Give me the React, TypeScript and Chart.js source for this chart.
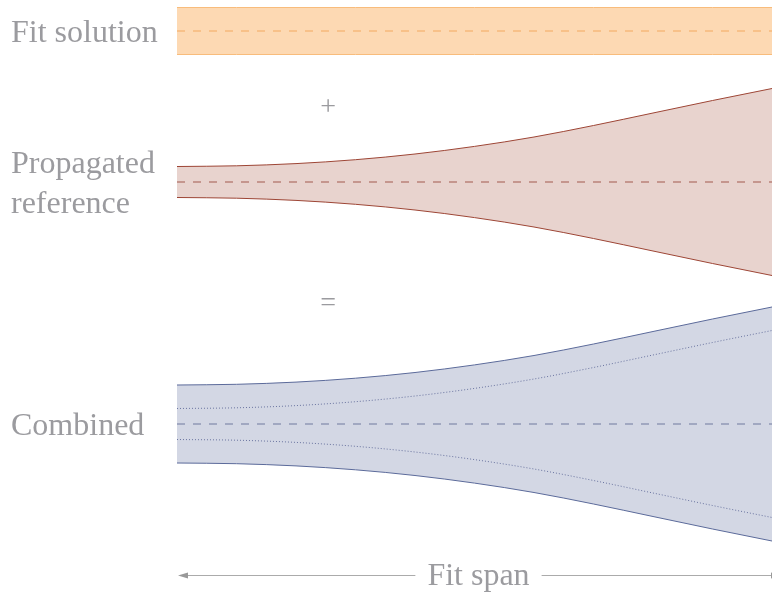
import { useEffect, useRef } from "react";
import { Chart, registerables } from "chart.js";

Chart.register(...registerables);

// Position along the fit span (0 = start, 1 = end)
const spanT = [0, 0.1, 0.2, 0.3, 0.4, 0.5, 0.6, 0.7, 0.8, 0.9, 1.0];
// Half-widths of the uncertainty bands (diagram units)
const fitHalf = [23.5, 23.5, 23.5, 23.5, 23.5, 23.5, 23.5, 23.5, 23.5, 23.5, 23.5];
const refHalf = [15.5, 16.2, 18.4, 22.3, 28.0, 35.6, 45, 56.5, 69, 81.5, 93.5];
const combinedHalf = [39, 39.7, 41.9, 45.8, 51.5, 59.1, 68.5, 80, 92.5, 105, 117];
// Lanes (vertical axis, diagram units, top = 0)
const laneLabels: (string | string[])[] = ["Fit solution", ["Propagated", "reference"], "Combined"];
const laneCenters = [31, 182, 424];
const operators = ["+", "="];
const operatorT = [0.254, 0.254];
const operatorY = [105, 301];
const spanLabel = "Fit span";
const spanY = 575;

const GREY = "#9b9b9f";
const FONT = '"Liberation Serif", "Times New Roman", serif';

type BandStyle = { fill: string; edge: string; mid: string };
const fitStyle: BandStyle = { fill: "#fdd9b3", edge: "#f8bc7c", mid: "#f6b97c" };
const refStyle: BandStyle = { fill: "#e8d3ce", edge: "#9d4535", mid: "#b9837a" };
const combStyle: BandStyle = { fill: "#d3d7e4", edge: "#5b6a9a", mid: "#9199b5" };

function pts(center: number, half: number[], sign: number) {
  return spanT.map((t, i) => ({ x: t, y: center + sign * half[i] }));
}

function band(center: number, half: number[], s: BandStyle) {
  return [
    {
      data: pts(center, half, -1),
      borderColor: s.edge,
      borderWidth: 1,
      backgroundColor: s.fill,
      fill: "+1",
    },
    {
      data: pts(center, half, 1),
      borderColor: s.edge,
      borderWidth: 1,
      fill: false,
    },
    {
      data: pts(center, half, 0),
      borderColor: s.mid,
      borderWidth: 1.5,
      borderDash: [8, 8],
      fill: false,
    },
  ];
}

const annotPlugin = {
  id: "annot",
  afterDraw(chart: any) {
    const { ctx, scales } = chart;
    const x = scales.x;
    const y = scales.y;
    ctx.save();
    ctx.fillStyle = GREY;
    ctx.textAlign = "center";
    ctx.textBaseline = "middle";
    ctx.font = `28px ${FONT}`;
    operators.forEach((op, i) => {
      ctx.fillText(op, x.getPixelForValue(operatorT[i]), y.getPixelForValue(operatorY[i]) + 3);
    });

    const yy = Math.round(y.getPixelForValue(spanY)) + 0.5;
    const x0 = x.getPixelForValue(0);
    const x1 = x.getPixelForValue(1);
    ctx.font = `32px ${FONT}`;
    const w = ctx.measureText(spanLabel).width;
    const cx = (x0 + x1) / 2 + 4;
    ctx.fillText(spanLabel, cx, yy + 1);

    ctx.strokeStyle = "#ababab";
    ctx.lineWidth = 1;
    ctx.beginPath();
    ctx.moveTo(x0 + 6, yy);
    ctx.lineTo(cx - w / 2 - 12, yy);
    ctx.moveTo(cx + w / 2 + 12, yy);
    ctx.lineTo(x1, yy);
    ctx.stroke();

    ctx.fillStyle = "#999999";
    ctx.beginPath();
    ctx.moveTo(x0 + 1, yy);
    ctx.lineTo(x0 + 11, yy - 3);
    ctx.lineTo(x0 + 11, yy + 3);
    ctx.closePath();
    ctx.fill();
    ctx.beginPath();
    ctx.moveTo(x1 + 9, yy);
    ctx.lineTo(x1 - 1, yy - 3);
    ctx.lineTo(x1 - 1, yy + 3);
    ctx.closePath();
    ctx.fill();
    ctx.restore();
  },
};

export default function App() {
  const ref = useRef<HTMLCanvasElement>(null);

  useEffect(() => {
    if (!ref.current) return;
    const datasets: any[] = [
      ...band(laneCenters[0], fitHalf, fitStyle),
      ...band(laneCenters[1], refHalf, refStyle),
      ...band(laneCenters[2], combinedHalf, combStyle),
      {
        data: pts(laneCenters[2], refHalf, -1),
        borderColor: "#6a74a0",
        borderWidth: 1,
        borderDash: [1, 2],
        fill: false,
      },
      {
        data: pts(laneCenters[2], refHalf, 1),
        borderColor: "#6a74a0",
        borderWidth: 1,
        borderDash: [1, 2],
        fill: false,
      },
    ];

    const chart = new Chart(ref.current, {
      type: "line",
      data: { datasets },
      plugins: [annotPlugin],
      options: {
        animation: false,
        responsive: true,
        maintainAspectRatio: false,
        layout: { padding: { left: 11, top: 0, right: 0, bottom: 0 } },
        elements: {
          point: { radius: 0, hoverRadius: 0 },
          line: { cubicInterpolationMode: "monotone" },
        },
        plugins: {
          legend: { display: false },
          tooltip: { enabled: false },
          filler: { drawTime: "beforeDatasetsDraw", propagate: false },
        },
        scales: {
          x: { type: "linear", min: 0, max: 1, display: false },
          y: {
            type: "linear",
            min: 0,
            max: 592,
            reverse: true,
            position: "left",
            grid: { display: false, drawTicks: false },
            border: { display: false },
            afterBuildTicks: (s: any) => {
              s.ticks = laneCenters.map((v) => ({ value: v }));
            },
            afterFit: (s: any) => {
              s.width = 166;
              s.paddingTop = 0;
              s.paddingBottom = 0;
            },
            ticks: {
              autoSkip: false,
              crossAlign: "far",
              padding: 0,
              labelOffset: 3,
              color: GREY,
              font: { family: FONT, size: 32, lineHeight: 1.25 },
              callback: (_v: any, i: number) => laneLabels[i],
            },
          },
        },
      } as any,
    });
    return () => chart.destroy();
  }, []);

  return (
    <div style={{ position: "absolute", left: 0, top: 0, width: 772, height: 592 }}>
      <canvas ref={ref} />
    </div>
  );
}
